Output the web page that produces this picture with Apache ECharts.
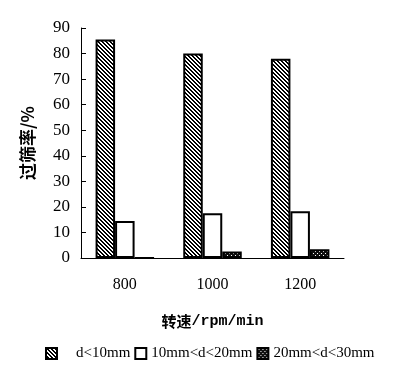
<!DOCTYPE html>
<html><head><meta charset="utf-8">
<script src="https://cdn.jsdelivr.net/npm/echarts@6/dist/echarts.min.js"></script>
<style>html,body{margin:0;padding:0;background:#fff}#c{width:394px;height:381px}</style>
</head><body><div id="c"></div>
<script>
const categories = ['800', '1000', '1200'];
const seriesNames = ['d<10mm', '10mm<d<20mm', '20mm<d<30mm'];
const small = [85.5, 80, 78];
const medium = [14.5, 17.5, 18.3];
const large = [0, 2.5, 3.4];
const yTicks = [0, 10, 20, 30, 40, 50, 60, 70, 80, 90];

function makePattern(kind) {
  const c = document.createElement('canvas');
  const ctx = c.getContext('2d');
  if (kind === 'hatch') {
    c.width = 4; c.height = 4;
    ctx.fillStyle = '#fff'; ctx.fillRect(0, 0, 4, 4);
    ctx.fillStyle = '#000';
    for (let x = 0; x < 4; x++) for (let y = 0; y < 4; y++) {
      const d = ((x - y) % 4 + 4) % 4;
      if (d === 0 || d === 1) ctx.fillRect(x, y, 1, 1);
    }
  } else {
    c.width = 4; c.height = 4;
    ctx.fillStyle = '#111'; ctx.fillRect(0, 0, 4, 4);
    ctx.fillStyle = '#fff';
    ctx.fillRect(1, 1, 1, 1);
    ctx.fillRect(3, 3, 1, 1);
  }
  return { image: c, repeat: 'repeat' };
}

const chart = echarts.init(document.getElementById('c'), null, { renderer: 'canvas' });
const border = { borderColor: '#000', borderWidth: 2 };
chart.setOption({
  animation: false,
  backgroundColor: '#fff',
  grid: { left: 81, right: 50, top: 28, bottom: 123, containLabel: false },
  legend: {
    left: 45, top: 346, padding: 0, icon: 'rect',
    itemWidth: 11, itemHeight: 11, itemTextGap: 3, itemGap: 4,
    data: seriesNames,
    formatter: n => n === seriesNames[0] ? '{pad| }' + n : n,
    textStyle: { fontFamily: 'Liberation Serif', fontSize: 15, color: '#000',
      rich: { pad: { width: 14, fontSize: 15 } } }
  },
  xAxis: {
    type: 'category', data: categories,
    name: '{cn|转速}{mono|/rpm/min}', nameLocation: 'middle', nameGap: 56,
    nameTextStyle: { rich: {
      cn: { fontFamily: 'Noto Sans CJK SC', fontSize: 15, fontWeight: 'bold', color: '#000' },
      mono: { fontFamily: 'Liberation Mono', fontSize: 15, fontWeight: 'bold', color: '#000' } } },
    axisLine: { lineStyle: { color: '#000', width: 1 } },
    axisTick: { inside: true, length: 5, lineStyle: { color: '#000' } },
    axisLabel: { color: '#000', fontFamily: 'Liberation Serif', fontSize: 16, margin: 19 }
  },
  yAxis: {
    type: 'value', min: 0, max: 90, interval: 10,
    name: '过筛率/%', nameLocation: 'middle', nameGap: 45, nameRotate: 90,
    nameTextStyle: { fontFamily: 'Noto Sans CJK SC', fontSize: 17, fontWeight: 'bold', color: '#000' },
    axisLine: { show: true, lineStyle: { color: '#000', width: 1 } },
    axisTick: { show: true, inside: true, length: 5, lineStyle: { color: '#000' } },
    splitLine: { show: false },
    axisLabel: { color: '#000', fontFamily: 'Liberation Serif', fontSize: 17, margin: 11,
      formatter: v => yTicks.includes(v) ? String(v) : '' }
  },
  series: [
    { name: seriesNames[0], type: 'bar', data: small, barWidth: 19.5, barGap: '0%',
      itemStyle: Object.assign({ color: makePattern('hatch') }, border) },
    { name: seriesNames[1], type: 'bar', data: medium, barWidth: 19.5, barGap: '0%',
      itemStyle: Object.assign({ color: '#fff' }, border) },
    { name: seriesNames[2], type: 'bar', data: large, barWidth: 19.5, barGap: '0%',
      itemStyle: Object.assign({ color: makePattern('dots') }, border) }
  ]
});
</script></body></html>
